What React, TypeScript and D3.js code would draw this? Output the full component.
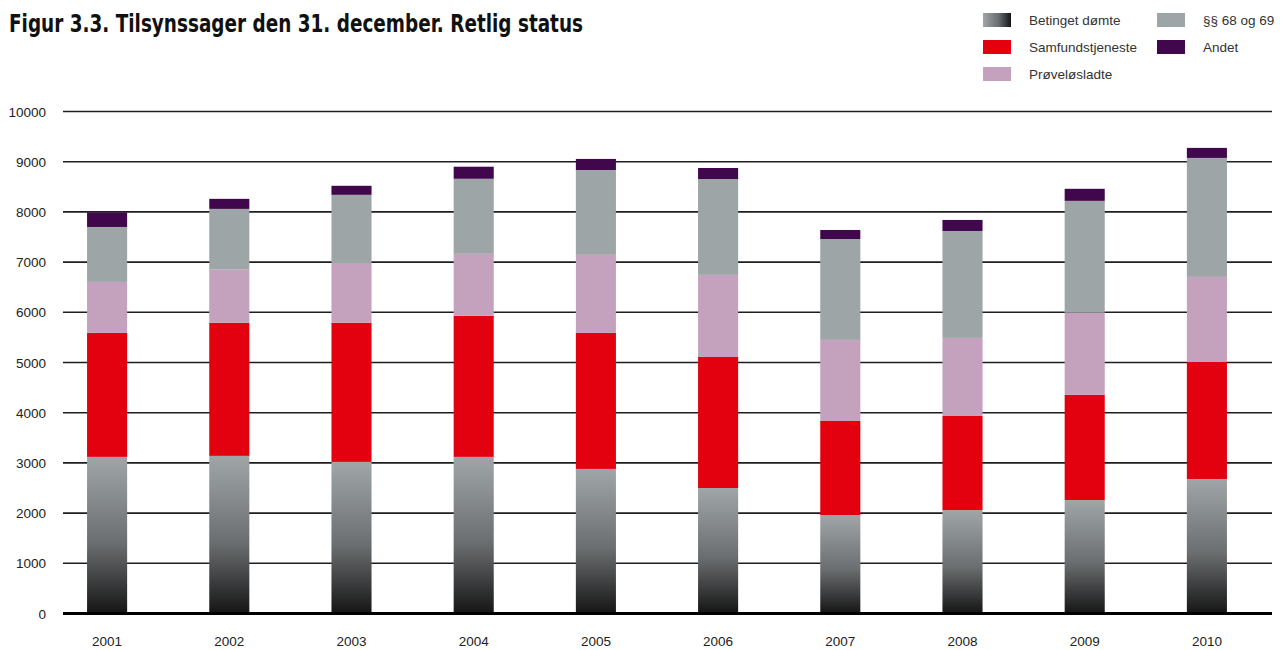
import React from 'react';
import * as d3 from 'd3';

// Tilsynssager den 31. december, by legal status
const years = ['2001', '2002', '2003', '2004', '2005', '2006', '2007', '2008', '2009', '2010'];
const betingetDomte = [3120, 3140, 3020, 3120, 2880, 2500, 1960, 2060, 2260, 2680];
const samfundstjeneste = [2470, 2650, 2770, 2810, 2710, 2610, 1875, 1875, 2095, 2330];
const proveloesladte = [1015, 1060, 1175, 1235, 1555, 1635, 1615, 1555, 1640, 1695];
const paragraf6869 = [1095, 1210, 1375, 1495, 1690, 1910, 2010, 2130, 2225, 2370];
const andet = [290, 200, 180, 240, 220, 220, 180, 220, 240, 200];
const yTicks = [0, 1000, 2000, 3000, 4000, 5000, 6000, 7000, 8000, 9000, 10000];

const seriesKeys = ['betinget', 'samfund', 'prove', 'para', 'andet'];
const seriesNames = ['Betinget dømte', 'Samfundstjeneste', 'Prøveløsladte', '§§ 68 og 69', 'Andet'];
const seriesFill = ['url(#gradBar)', '#e3000f', '#c4a1bc', '#9ea5a7', '#40074d'];

const W = 1284;
const H = 650;
const font = '"Liberation Sans", Arial, sans-serif';

export default function App() {
  const rows = years.map((y, i) => ({
    year: y,
    betinget: betingetDomte[i],
    samfund: samfundstjeneste[i],
    prove: proveloesladte[i],
    para: paragraf6869[i],
    andet: andet[i],
  }));

  const stacked = d3.stack<any>().keys(seriesKeys)(rows);

  const x = d3.scaleBand().domain(years).range([46, 1268]).paddingInner(0.672).paddingOuter(0.336);
  const y = d3.scaleLinear().domain([0, 10000]).range([613.5, 111.5]);

  // legend placement (column-major)
  const legendPos = [
    { lx: 983, ly: 13 },
    { lx: 983, ly: 40 },
    { lx: 983, ly: 67 },
    { lx: 1157, ly: 13 },
    { lx: 1157, ly: 40 },
  ];

  return (
    <svg width={W} height={H} style={{ position: 'absolute', left: 0, top: 0, background: '#fff' }}>
      <defs>
        <linearGradient id="gradBar" x1="0" y1="0" x2="0" y2="1">
          <stop offset="0%" stopColor="#a0a6a8" />
          <stop offset="55%" stopColor="#6b6e70" />
          <stop offset="100%" stopColor="#151515" />
        </linearGradient>
        <linearGradient id="gradLegend" x1="0" y1="0" x2="1" y2="0">
          <stop offset="0%" stopColor="#a0a6a8" />
          <stop offset="55%" stopColor="#6b6e70" />
          <stop offset="100%" stopColor="#151515" />
        </linearGradient>
      </defs>

      {/* title */}
      <text
        x={9}
        y={32}
        fontFamily='"Liberation Sans Narrow", "DejaVu Sans Condensed", sans-serif'
        fontWeight="bold"
        fontSize={24}
        fill="#111"
        textLength={574}
        lengthAdjust="spacingAndGlyphs"
      >
        Figur 3.3. Tilsynssager den 31. december. Retlig status
      </text>

      {/* gridlines and y labels */}
      {yTicks.map((t) => (
        <g key={t}>
          {t > 0 && <line x1={63} x2={1272} y1={y(t)} y2={y(t)} stroke="#1e1e1e" strokeWidth={1.6} />}
          <text x={46} y={y(t) + 5} textAnchor="end" fontFamily={font} fontSize={13.5} fill="#222">
            {t}
          </text>
        </g>
      ))}

      {/* bars */}
      {stacked.map((s, si) => (
        <g key={s.key} fill={seriesFill[si]}>
          {s.map((d: any, i: number) => (
            <rect
              key={years[i]}
              x={x(years[i])}
              width={x.bandwidth()}
              y={y(d[1])}
              height={y(d[0]) - y(d[1])}
            />
          ))}
        </g>
      ))}

      {/* baseline */}
      <line x1={63} x2={1272} y1={y(0)} y2={y(0)} stroke="#000" strokeWidth={3} />

      {/* x labels */}
      {years.map((yr) => (
        <text
          key={yr}
          x={(x(yr) as number) + x.bandwidth() / 2}
          y={646}
          textAnchor="middle"
          fontFamily={font}
          fontSize={13.5}
          fill="#222"
        >
          {yr}
        </text>
      ))}

      {/* legend */}
      {seriesNames.map((name, i) => (
        <g key={name} transform={`translate(${legendPos[i].lx},${legendPos[i].ly})`}>
          <rect width={28} height={14} fill={i === 0 ? 'url(#gradLegend)' : seriesFill[i]} />
          <text x={46} y={12} fontFamily={font} fontSize={13.5} fill="#333">
            {name}
          </text>
        </g>
      ))}
    </svg>
  );
}
